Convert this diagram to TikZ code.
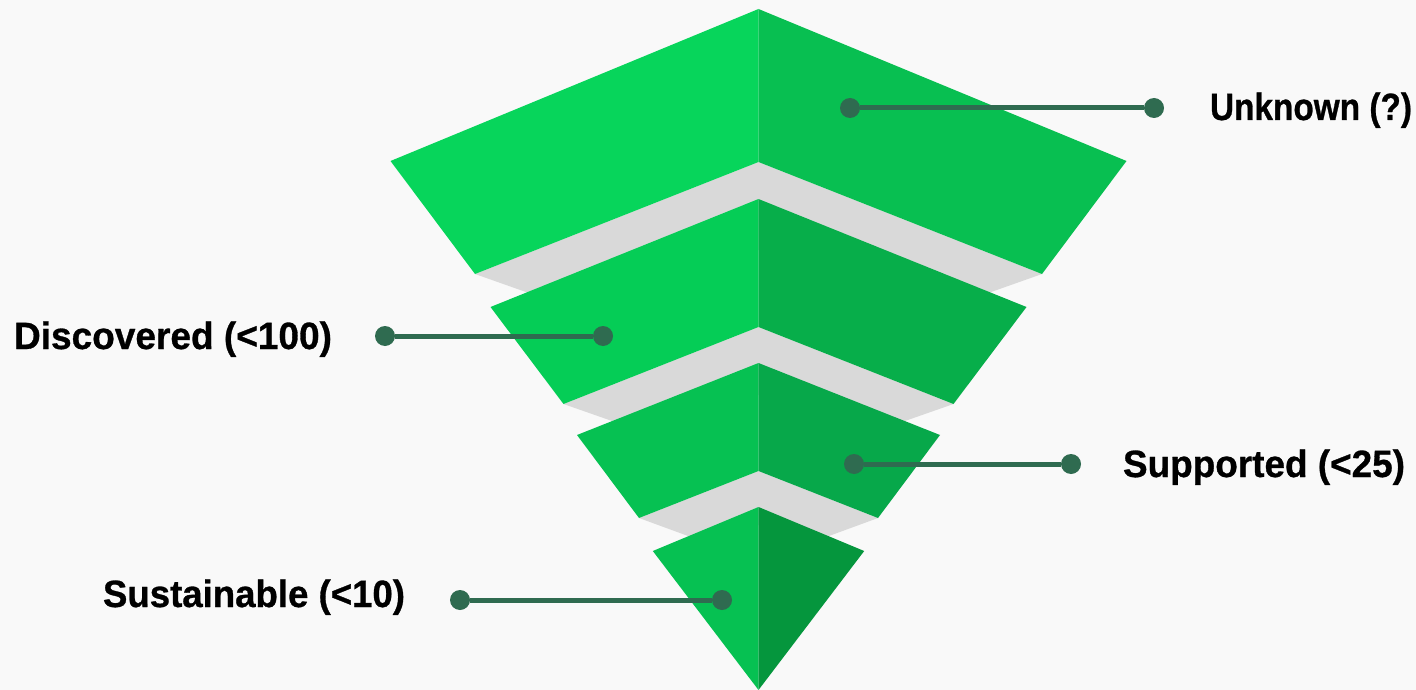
\documentclass[tikz,border=0pt]{standalone}
\usepackage{fontspec}
\setmainfont{Liberation Sans}[BoldFeatures={FakeBold=0.8}]
\usepackage{graphicx}
\definecolor{bgc}{HTML}{F9F9F9}
\definecolor{gapc}{HTML}{D9D9D9}
\definecolor{aL}{HTML}{07D55B}
\definecolor{aR}{HTML}{08BF51}
\definecolor{bL}{HTML}{05CD56}
\definecolor{bR}{HTML}{07AE4A}
\definecolor{cL}{HTML}{06C152}
\definecolor{cR}{HTML}{07A84A}
\definecolor{dL}{HTML}{06C152}
\definecolor{dR}{HTML}{05963D}
\definecolor{connc}{HTML}{2F6B50}
\tikzset{
  dot/.style={circle, fill=connc, minimum size=20pt, inner sep=0pt, outer sep=0pt},
  conn/.style={draw=connc, line width=5pt},
  lbl/.style={inner sep=0pt, outer sep=0pt, font=\bfseries\fontsize{38}{42}\selectfont, text=black}
}
\begin{document}
\begin{tikzpicture}[x=1pt, y=-1pt]
\useasboundingbox (0,0) rectangle (1416,690);
\fill[bgc] (0,0) rectangle (1416,690);
% gaps
\fill[gapc] (475,274) -- (758.5,162) -- (1042,274) -- (977,297) -- (758.5,250) -- (540,297) -- cycle;
\fill[gapc] (563.5,404) -- (758.5,327) -- (953.5,404) -- (893.5,425) -- (758.5,395) -- (623.5,425) -- cycle;
\fill[gapc] (639,518) -- (758.5,471) -- (878,518) -- (818,540) -- (758.5,525) -- (699,540) -- cycle;
% band 1
\fill[aL] (758.5,9) -- (390.5,161) -- (475,274) -- (758.5,162) -- cycle;
\fill[aR] (758.5,9) -- (1126.5,161) -- (1042,274) -- (758.5,162) -- cycle;
% band 2
\fill[bL] (758.5,199) -- (490.5,307) -- (563.5,404) -- (758.5,327) -- cycle;
\fill[bR] (758.5,199) -- (1026.5,307) -- (953.5,404) -- (758.5,327) -- cycle;
% band 3
\fill[cL] (758.5,363) -- (577,435) -- (639,518) -- (758.5,471) -- cycle;
\fill[cR] (758.5,363) -- (940,435) -- (878,518) -- (758.5,471) -- cycle;
% band 4
\fill[dL] (758.5,507) -- (652.8,551) -- (758.5,690) -- cycle;
\fill[dR] (758.5,507) -- (864.2,551) -- (758.5,690) -- cycle;
% connectors
\node[dot] (u1) at (850,108) {};
\node[dot] (u2) at (1154,108) {};
\draw[conn] (u1) -- (u2);
\node[dot] (d1) at (385,336) {};
\node[dot] (d2) at (603,336) {};
\draw[conn] (d1) -- (d2);
\node[dot] (s1) at (854,464) {};
\node[dot] (s2) at (1071,464) {};
\draw[conn] (s1) -- (s2);
\node[dot] (t1) at (460,600) {};
\node[dot] (t2) at (722,600) {};
\draw[conn] (t1) -- (t2);
% labels
\node[lbl, anchor=base west] (lu) at (1210,120) {\resizebox{202pt}{\height}{Unknown (?)}};
\node[lbl, anchor=base west] (ld) at (14,349) {\resizebox{318pt}{\height}{Discovered (<100)}};
\node[lbl, anchor=base west] (ls) at (1123,477) {\resizebox{282pt}{\height}{Supported (<25)}};
\node[lbl, anchor=base west] (lt) at (103,607) {\resizebox{302pt}{\height}{Sustainable (<10)}};
\end{tikzpicture}
\end{document}
